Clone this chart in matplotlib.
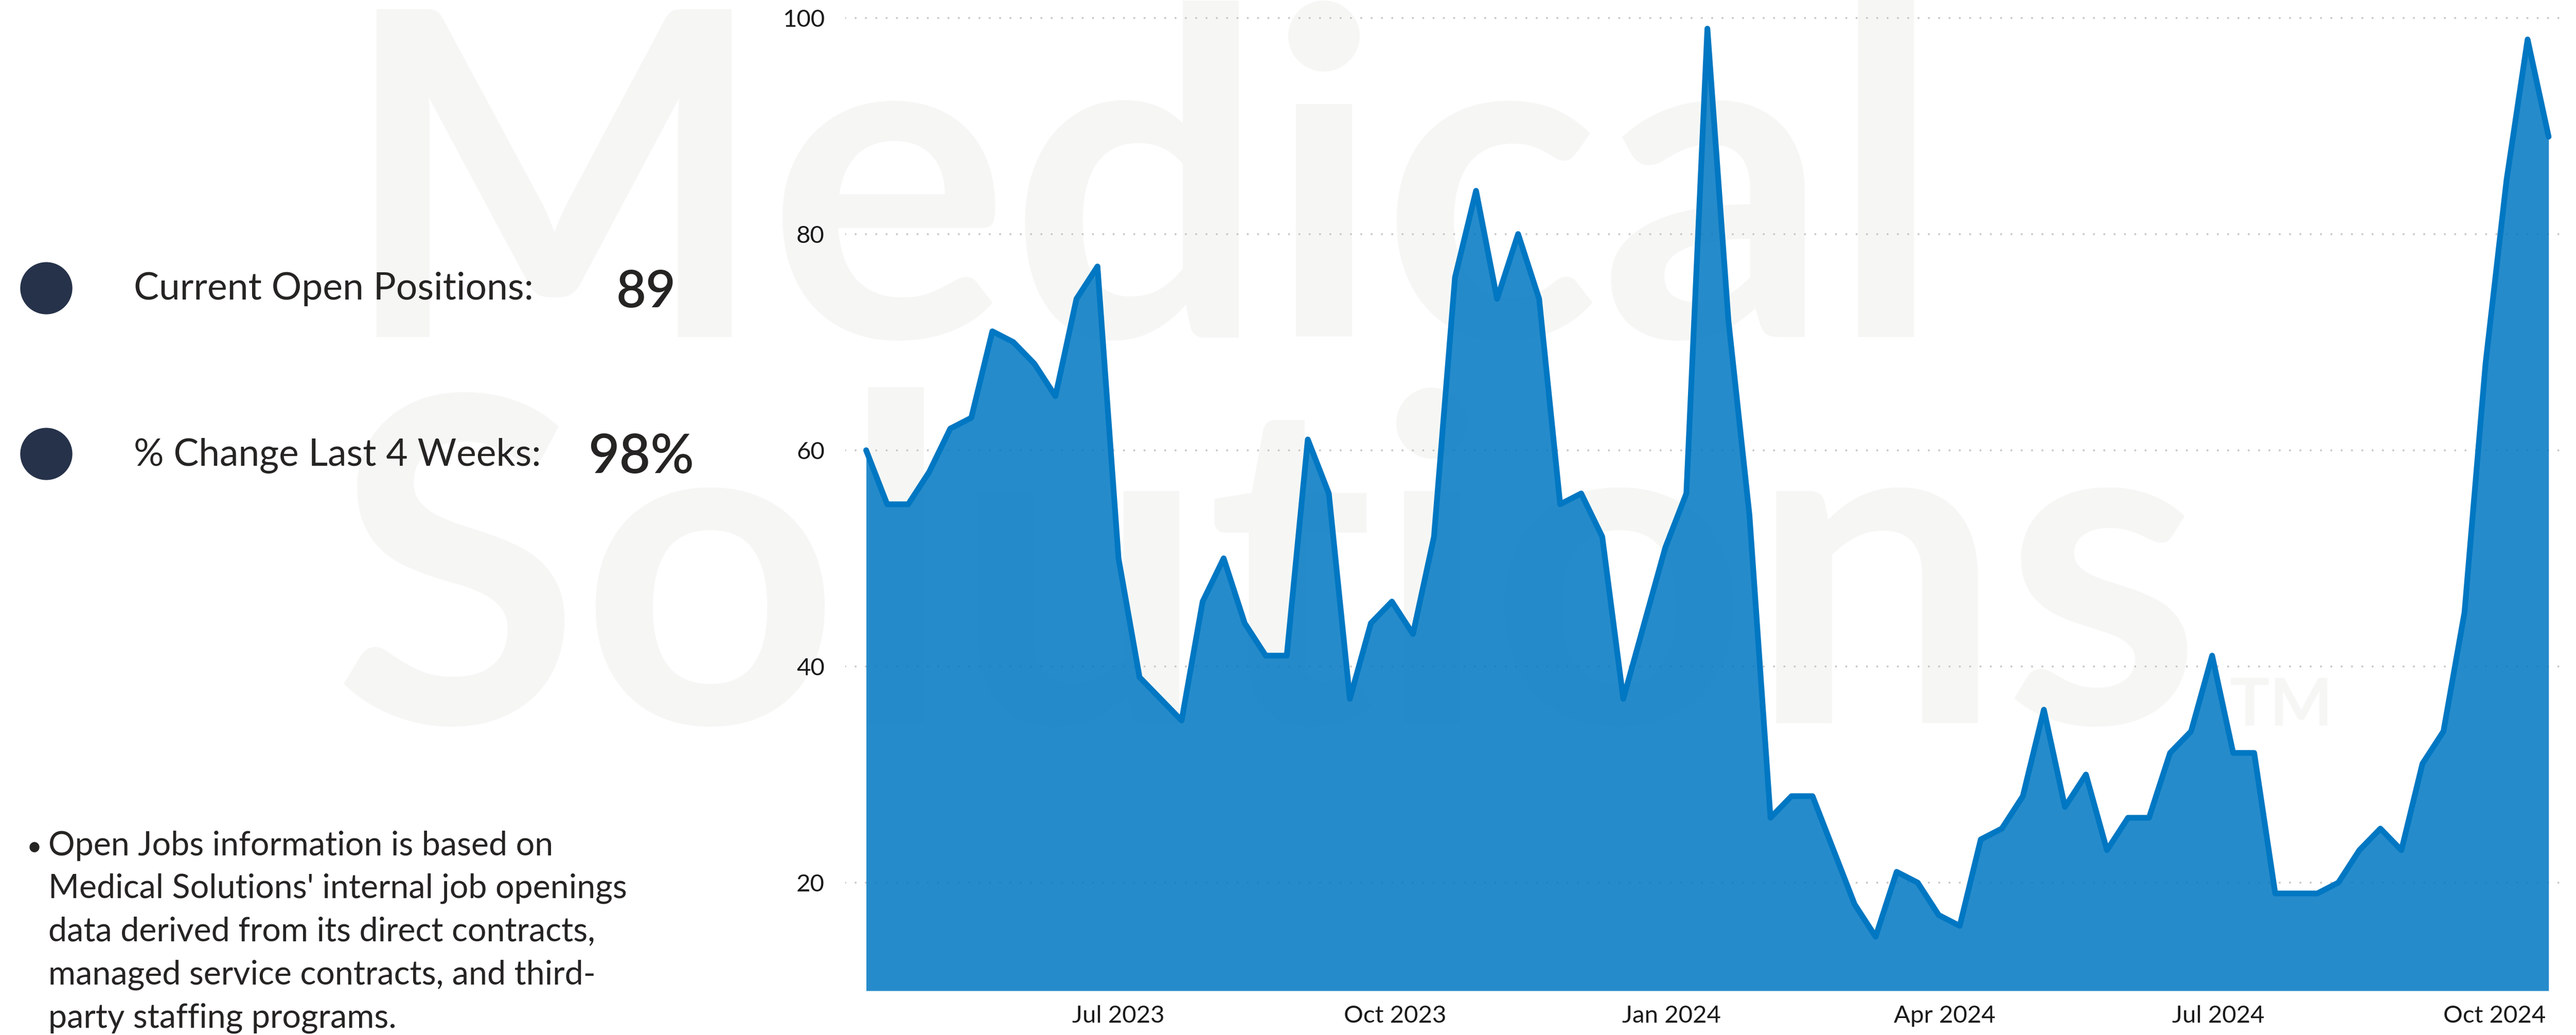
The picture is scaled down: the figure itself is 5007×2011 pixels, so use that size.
import matplotlib
matplotlib.use('Agg')
import matplotlib.pyplot as plt
import pandas as pd
from matplotlib.patches import Ellipse

# ---------------- data ----------------
start_date = '2023-04-08'
open_positions = [60, 55, 55, 58, 62, 63, 71, 70, 68, 65,
                  74, 77, 50, 39, 37, 35, 46, 50, 44, 41,
                  41, 61, 56, 37, 44, 46, 43, 52, 76, 84,
                  74, 80, 74, 55, 56, 52, 37, 44, 51, 56,
                  99, 72, 54, 26, 28, 28, 23, 18, 15, 21,
                  20, 17, 16, 24, 25, 28, 36, 27, 30, 23,
                  26, 26, 32, 34, 41, 32, 32, 19, 19, 19,
                  20, 23, 25, 23, 31, 34, 45, 68, 85, 98,
                  89]
tick_dates = ['2023-07-01', '2023-10-01', '2024-01-01', '2024-04-01', '2024-07-01', '2024-10-01']
tick_labels = ['Jul 2023', 'Oct 2023', 'Jan 2024', 'Apr 2024', 'Jul 2024', 'Oct 2024']
y_ticks = [20, 40, 60, 80, 100]
current_open = 89
pct_change_4wk = 98
label_current = 'Current Open Positions:'
label_change = '% Change Last 4 Weeks:'
footnote_lines = ["Open Jobs information is based on",
                  "Medical Solutions' internal job openings",
                  "data derived from its direct contracts,",
                  "managed service contracts, and third-",
                  "party staffing programs."]

dates = pd.date_range(start_date, periods=len(open_positions), freq='7D')

# ---------------- figure ----------------
W, H = 5007, 2011
fig = plt.figure(figsize=(W / 100, H / 100), dpi=100)
fig.patch.set_facecolor('white')
FONT = 'Lato'
TXT = '#252423'


def fx(x):
    return x / W


def fy(y):
    return 1 - y / H


def fit(t, target_w):
    r = fig.canvas.get_renderer()
    w = t.get_window_extent(r).width
    t.set_fontsize(t.get_fontsize() * target_w / w)
    return t.get_fontsize()


# watermark (behind everything)
wm = '#F6F7F5'
t = fig.text(fx(660), fy(655), 'Medical', fontsize=600, family=FONT, weight='bold',
             color=wm, ha='left', va='baseline', zorder=-10)
fit(t, 3115)
t = fig.text(fx(648), fy(1405), 'Solutions', fontsize=600, family=FONT, weight='bold',
             color=wm, ha='left', va='baseline', zorder=-10)
fit(t, 3632)
t = fig.text(fx(4334), fy(1410), 'TM', fontsize=80, family=FONT, weight='bold',
             color=wm, ha='left', va='baseline', zorder=-10)
fit(t, 200)

# ---------------- chart ----------------
ax_top = 13.6
ax = fig.add_axes([fx(1643), fy(1925), fx(4990) - fx(1643), (1925 - ax_top) / H])
ax.set_zorder(1)
ax.set_facecolor('none')
line_c = '#0077C2'
ax.fill_between(dates, open_positions, 10, color=line_c, alpha=0.85, lw=0, zorder=2)
ax.plot(dates, open_positions, color=line_c, lw=8, solid_joinstyle='round',
        solid_capstyle='round', zorder=3)
ax.set_ylim(10, 101)
ax.set_xlim(dates[0] - pd.Timedelta(days=6.94), dates[-1] + pd.Timedelta(days=6.2))
ax.set_yticks(y_ticks)
ax.set_yticklabels([str(v) for v in y_ticks], fontsize=34, family=FONT, color='#1a1a1a')
ax.yaxis.grid(True, color='#C8C8C8', lw=2.9, ls=(0, (0.01, 4.97)), dash_capstyle='round')
ax.set_axisbelow(True)
ax.set_xticks(pd.to_datetime(tick_dates))
ax.set_xticklabels(tick_labels, fontsize=34, family=FONT, color='#1a1a1a')
for lab in ax.get_xticklabels():
    lab.set_va('baseline')
ax.tick_params(axis='x', length=0, pad=44.6)
ax.tick_params(axis='y', length=0, pad=28.8)
for s in ax.spines.values():
    s.set_visible(False)

# ---------------- left panel ----------------
circ_c = '#26324A'
for cy in (560, 882):
    fig.add_artist(Ellipse((fx(90), fy(cy)), width=100 / W, height=100 / H,
                           transform=fig.transFigure, color=circ_c, zorder=2))

t = fig.text(fx(260), fy(582), label_current, fontsize=50, family=FONT, color=TXT,
             ha='left', va='baseline', zorder=2)
fit(t, 776)
t = fig.text(fx(260), fy(905), label_change, fontsize=50, family=FONT, color=TXT,
             ha='left', va='baseline', zorder=2)
fit(t, 791)
t = fig.text(fx(1256), fy(597), f'{current_open}', fontsize=75, family=FONT, weight='semibold',
             color=TXT, ha='center', va='baseline', zorder=2)
fit(t, 116)
t = fig.text(fx(1246), fy(919), f'{pct_change_4wk}%', fontsize=75, family=FONT, weight='semibold',
             color=TXT, ha='center', va='baseline', zorder=2)
fit(t, 206)

# footnote
baselines = [1662, 1745, 1828, 1913, 1997]
ref = fig.text(fx(94), fy(baselines[1]), footnote_lines[1], fontsize=40, family=FONT,
               color=TXT, ha='left', va='baseline', zorder=2)
fs = fit(ref, 1126)
for i, line in enumerate(footnote_lines):
    if i == 1:
        continue
    fig.text(fx(94), fy(baselines[i]), line, fontsize=fs, family=FONT, color=TXT,
             ha='left', va='baseline', zorder=2)
fig.text(fx(67), fy(baselines[0]), '\u2022', fontsize=fs * 0.8, family=FONT, color=TXT,
         ha='center', va='baseline', zorder=2)

fig.savefig('out.png', dpi=100, facecolor='white')
